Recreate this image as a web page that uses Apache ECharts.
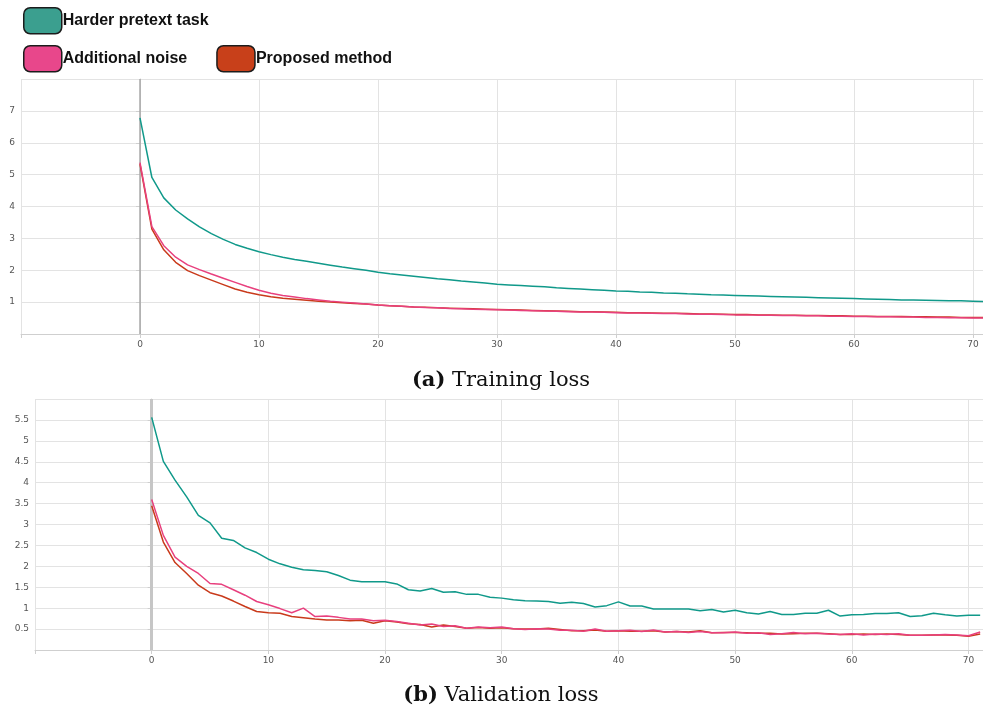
<!DOCTYPE html>
<html>
<head>
<meta charset="utf-8">
<script src="https://cdn.jsdelivr.net/npm/echarts@6/dist/echarts.min.js"></script>
<style>
html,body{margin:0;padding:0;background:#fff;overflow:hidden;}
#c{width:983px;height:711px;}
</style>
</head>
<body>
<div id="c"></div>
<script>
// ---- Data ----
const seriesNames = ['Harder pretext task', 'Additional noise', 'Proposed method'];

// Training loss (epochs 0..71)
const trainHarder = [6.78,4.91,4.27,3.89,3.61,3.36,3.15,2.97,2.81,2.69,2.58,2.49,2.41,2.34,2.28,2.22,2.16,2.10,2.05,2.00,1.94,1.89,1.85,1.81,1.77,1.73,1.70,1.66,1.63,1.60,1.56,1.54,1.52,1.50,1.48,1.45,1.43,1.41,1.39,1.37,1.35,1.34,1.32,1.31,1.29,1.28,1.26,1.25,1.23,1.22,1.21,1.20,1.19,1.18,1.17,1.16,1.15,1.14,1.13,1.12,1.11,1.10,1.09,1.08,1.07,1.07,1.06,1.05,1.04,1.04,1.03,1.02];
const trainNoise = [5.38,3.37,2.77,2.41,2.17,2.02,1.88,1.75,1.62,1.49,1.37,1.28,1.21,1.16,1.11,1.07,1.03,1.00,0.97,0.94,0.91,0.89,0.87,0.85,0.83,0.82,0.80,0.79,0.78,0.77,0.76,0.75,0.74,0.73,0.72,0.71,0.70,0.69,0.69,0.68,0.67,0.66,0.66,0.65,0.64,0.64,0.63,0.62,0.62,0.61,0.60,0.60,0.59,0.59,0.58,0.58,0.57,0.57,0.56,0.56,0.55,0.55,0.54,0.54,0.53,0.53,0.52,0.52,0.51,0.51,0.50,0.50];
const trainProposed = [5.33,3.29,2.64,2.25,1.99,1.83,1.69,1.55,1.41,1.31,1.23,1.17,1.12,1.09,1.06,1.03,1.00,0.98,0.96,0.94,0.91,0.89,0.87,0.85,0.84,0.82,0.81,0.80,0.79,0.78,0.77,0.76,0.75,0.74,0.73,0.72,0.71,0.70,0.70,0.69,0.68,0.67,0.67,0.66,0.65,0.65,0.64,0.63,0.63,0.62,0.61,0.61,0.60,0.60,0.59,0.59,0.58,0.58,0.57,0.57,0.56,0.56,0.55,0.55,0.55,0.54,0.54,0.53,0.53,0.52,0.52,0.52];

// Validation loss (epochs 0..71)
const valHarder = [5.56,4.51,4.06,3.66,3.22,3.04,2.67,2.62,2.44,2.33,2.17,2.06,1.98,1.92,1.90,1.87,1.78,1.67,1.63,1.63,1.63,1.58,1.44,1.41,1.47,1.38,1.39,1.33,1.33,1.26,1.24,1.20,1.18,1.17,1.16,1.12,1.14,1.11,1.03,1.06,1.15,1.05,1.05,0.98,0.98,0.98,0.98,0.94,0.97,0.91,0.95,0.89,0.86,0.92,0.85,0.85,0.88,0.88,0.95,0.81,0.84,0.85,0.87,0.87,0.89,0.80,0.82,0.88,0.84,0.81,0.83,0.83];
const valNoise = [3.60,2.74,2.22,2.00,1.83,1.59,1.57,1.44,1.31,1.16,1.08,0.99,0.89,1.00,0.80,0.81,0.78,0.74,0.74,0.70,0.71,0.68,0.64,0.60,0.62,0.56,0.58,0.52,0.55,0.53,0.55,0.51,0.49,0.51,0.50,0.47,0.47,0.45,0.50,0.45,0.46,0.47,0.44,0.48,0.43,0.44,0.42,0.44,0.41,0.41,0.43,0.40,0.41,0.37,0.39,0.42,0.39,0.40,0.38,0.37,0.39,0.36,0.38,0.37,0.39,0.35,0.35,0.36,0.37,0.36,0.34,0.43];
const valProposed = [3.45,2.58,2.09,1.83,1.55,1.37,1.29,1.17,1.04,0.92,0.89,0.88,0.80,0.77,0.74,0.72,0.72,0.70,0.71,0.64,0.70,0.67,0.63,0.61,0.55,0.60,0.56,0.52,0.54,0.52,0.53,0.51,0.50,0.50,0.52,0.49,0.46,0.46,0.48,0.45,0.46,0.45,0.45,0.46,0.43,0.44,0.43,0.46,0.41,0.42,0.42,0.41,0.40,0.40,0.38,0.39,0.40,0.40,0.39,0.37,0.37,0.38,0.37,0.38,0.37,0.35,0.35,0.36,0.36,0.35,0.33,0.38];

const xTickLabels = ['0','10','20','30','40','50','60','70'];
const captions = [['(a)', 'Training loss'], ['(b)', 'Validation loss']];

// ---- Styles ----
const lineColors = ['#10998a', '#e8407e', '#c93a1b'];
const legendColors = ['#3b9f8f', '#e8478b', '#c8401a'];

function pairs(arr){ return arr.map((v,i)=>[i, v]); }

const chart = echarts.init(document.getElementById('c'), null, {renderer:'canvas', width:983, height:711});

function xAxisCfg(gi, max){
  return {
    type:'value', gridIndex:gi, min:-10, max:max, interval:10,
    axisLine:{show:true, onZero:false, lineStyle:{color:'#cfcfcf', width:1}},
    axisTick:{show:true, length:4, lineStyle:{color:'#cfcfcf'}},
    splitLine:{show:true, lineStyle:{color:'#e3e3e3', width:1}},
    axisLabel:{
      margin:6, fontSize:9, color:'#555', fontFamily:'DejaVu Sans',
      formatter: v => xTickLabels.includes(String(v)) ? String(v) : ''
    }
  };
}
function yAxisCfg(gi, max, interval){
  return {
    type:'value', gridIndex:gi, min:0, max:max, interval:interval,
    axisLine:{show:true, lineStyle:{color:'#cfcfcf', width:1}},
    axisTick:{show:true, length:4, lineStyle:{color:'#cfcfcf'}},
    splitLine:{show:true, lineStyle:{color:'#e3e3e3', width:1.2}},
    axisLabel:{margin:6, fontSize:9, color:'#555', fontFamily:'DejaVu Sans',
      showMinLabel:false, showMaxLabel:false}
  };
}
function lineSeries(name, data, gi, idx, zeroLine){
  const s = {
    name:name, type:'line', xAxisIndex:gi, yAxisIndex:gi,
    data:pairs(data), showSymbol:false, symbol:'none',
    lineStyle:{color:lineColors[idx], width:1.5},
    itemStyle:{color:legendColors[idx]},
    z: idx===1 ? 4 : (idx===2 ? 3 : 2)
  };
  if (zeroLine) {
    s.markLine = {silent:true, symbol:'none', label:{show:false},
      lineStyle:{color:zeroLine.color, width:zeroLine.width, type:'solid'},
      data:[{xAxis:0}], z:1};
  }
  return s;
}

const legendText = {fontFamily:'Liberation Sans, Arial', fontWeight:'bold', fontSize:16, color:'#111', padding:[0,0,0,-4]};
const legendItem = {borderColor:'#1c1c1c', borderWidth:1.5};

function captionText(c, x, y){
  return {type:'text', x:x, y:y,
    style:{text:'{b|' + c[0] + '} ' + c[1], fontFamily:'DejaVu Serif', fontSize:21, fill:'#111',
      align:'center', verticalAlign:'middle', textAlign:'center', textVerticalAlign:'middle',
      rich:{b:{fontWeight:'bold', fontFamily:'DejaVu Serif', fontSize:21, fill:'#111'}}}};
}

const option = {
  animation:false,
  backgroundColor:'#fff',
  legend:[
    {data:[seriesNames[0]], left:18, top:2, orient:'horizontal', icon:'roundRect',
     itemWidth:38, itemHeight:26, itemGap:25, textStyle:legendText, itemStyle:legendItem, selectedMode:false},
    {data:[seriesNames[1], seriesNames[2]], left:18, top:40, orient:'horizontal', icon:'roundRect',
     itemWidth:38, itemHeight:26, itemGap:29, textStyle:legendText, itemStyle:legendItem, selectedMode:false}
  ],
  grid:[
    {left:21, top:79, width:965, height:255, containLabel:false, outerBoundsMode:'none'},
    {left:35, top:399, width:951, height:251, containLabel:false, outerBoundsMode:'none'}
  ],
  xAxis:[xAxisCfg(0, 71.1), xAxisCfg(1, 71.5)],
  yAxis:[yAxisCfg(0, 8, 1), yAxisCfg(1, 6, 0.5)],
  series:[
    lineSeries(seriesNames[0], trainHarder, 0, 0, {color:'#a9a9a9', width:1.5}),
    lineSeries(seriesNames[2], trainProposed, 0, 2),
    lineSeries(seriesNames[1], trainNoise, 0, 1),
    lineSeries(seriesNames[0], valHarder, 1, 0, {color:'#c6c6c6', width:3}),
    lineSeries(seriesNames[2], valProposed, 1, 2),
    lineSeries(seriesNames[1], valNoise, 1, 1)
  ],
  graphic:[
    captionText(captions[0], 501, 381),
    captionText(captions[1], 501, 696)
  ]
};
chart.setOption(option);
</script>
</body>
</html>
